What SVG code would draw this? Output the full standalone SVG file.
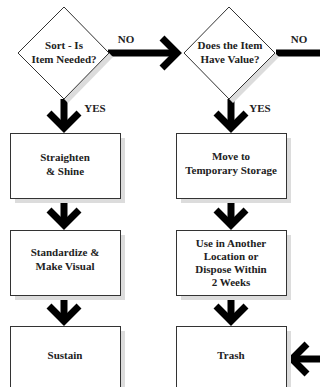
<svg xmlns="http://www.w3.org/2000/svg" width="320" height="387" viewBox="0 0 320 387">
<defs>
<style>
.box{fill:#fff;stroke:#333;stroke-width:1}
.sh{fill:#dcdcdc;stroke:none}
.t{font-family:"Liberation Serif","Times New Roman",serif;font-weight:bold;font-size:11px;fill:#222;text-anchor:middle}
.sh2{fill:none;stroke:#000;stroke-width:7}
.hd{fill:none;stroke:#000;stroke-width:7;stroke-linejoin:miter;stroke-miterlimit:4}
</style>
<path id="headDown" d="M-15,-20 L0,-5 L15,-20"/>
</defs>
<rect width="320" height="387" fill="#fff"/>

<g id="connectors">
<!-- diamond1 -> diamond2 (NO) -->
<line class="sh2" x1="108" y1="53" x2="176" y2="53"/>
<use href="#headDown" class="hd" transform="translate(182,53) rotate(-90)"/>
<text class="t" x="126" y="43">NO</text>
<!-- diamond2 NO -> off right -->
<line class="sh2" x1="276" y1="53" x2="320" y2="53"/>
<text class="t" x="299" y="43">NO</text>
<!-- into Trash from right -->
<line class="sh2" x1="292" y1="359" x2="320" y2="359"/>
<use href="#headDown" class="hd" transform="translate(287,359) rotate(90)"/>
<!-- left column down arrows -->
<line class="sh2" x1="64" y1="99" x2="64" y2="128"/>
<use href="#headDown" class="hd" transform="translate(64,133)"/>
<text class="t" x="95" y="112">YES</text>
<line class="sh2" x1="64" y1="198" x2="64" y2="225"/>
<use href="#headDown" class="hd" transform="translate(64,230)"/>
<line class="sh2" x1="64" y1="295" x2="64" y2="321"/>
<use href="#headDown" class="hd" transform="translate(64,326)"/>
<!-- right column down arrows -->
<line class="sh2" x1="231" y1="99" x2="231" y2="128"/>
<use href="#headDown" class="hd" transform="translate(231,133)"/>
<text class="t" x="260" y="112">YES</text>
<line class="sh2" x1="231" y1="198" x2="231" y2="225"/>
<use href="#headDown" class="hd" transform="translate(231,230)"/>
<line class="sh2" x1="231" y1="295" x2="231" y2="321"/>
<use href="#headDown" class="hd" transform="translate(231,326)"/>
</g>

<g id="sort">
<polygon class="sh" points="68,11 113,57 68,103 23,57"/>
<polygon class="box" points="64,7 109,53 64,99 18,53"/>
<text class="t" x="64" y="49">Sort - Is</text>
<text class="t" x="64" y="63">Item Needed?</text>
</g>

<g id="value">
<polygon class="sh" points="233,11 279,57 233,103 188,57"/>
<polygon class="box" points="229,7 275,53 229,99 184,53"/>
<text class="t" x="230" y="49">Does the Item</text>
<text class="t" x="230" y="63">Have Value?</text>
</g>

<g id="straighten">
<rect class="sh" x="15" y="138" width="110" height="65"/>
<rect class="box" x="10.5" y="133.5" width="110" height="65"/>
<text class="t" x="65" y="161">Straighten</text>
<text class="t" x="65" y="175">&amp; Shine</text>
</g>

<g id="standardize">
<rect class="sh" x="15" y="235" width="110" height="65"/>
<rect class="box" x="10.5" y="230.5" width="110" height="65"/>
<text class="t" x="65" y="256">Standardize &amp;</text>
<text class="t" x="65" y="270">Make Visual</text>
</g>

<g id="sustain">
<rect class="sh" x="15" y="331" width="110" height="65"/>
<rect class="box" x="10.5" y="326.5" width="110" height="65"/>
<text class="t" x="65" y="359">Sustain</text>
</g>

<g id="temporary">
<rect class="sh" x="181" y="138" width="110" height="65"/>
<rect class="box" x="176.5" y="133.5" width="110" height="65"/>
<text class="t" x="231" y="160">Move to</text>
<text class="t" x="231" y="174">Temporary Storage</text>
</g>

<g id="use">
<rect class="sh" x="181" y="235" width="110" height="65"/>
<rect class="box" x="176.5" y="230.5" width="110" height="65"/>
<text class="t" x="231" y="247">Use in Another</text>
<text class="t" x="231" y="260">Location or</text>
<text class="t" x="231" y="273">Dispose Within</text>
<text class="t" x="231" y="286">2 Weeks</text>
</g>

<g id="trash">
<rect class="sh" x="181" y="331" width="110" height="65"/>
<rect class="box" x="176.5" y="326.5" width="110" height="65"/>
<text class="t" x="231" y="359">Trash</text>
</g>
</svg>
